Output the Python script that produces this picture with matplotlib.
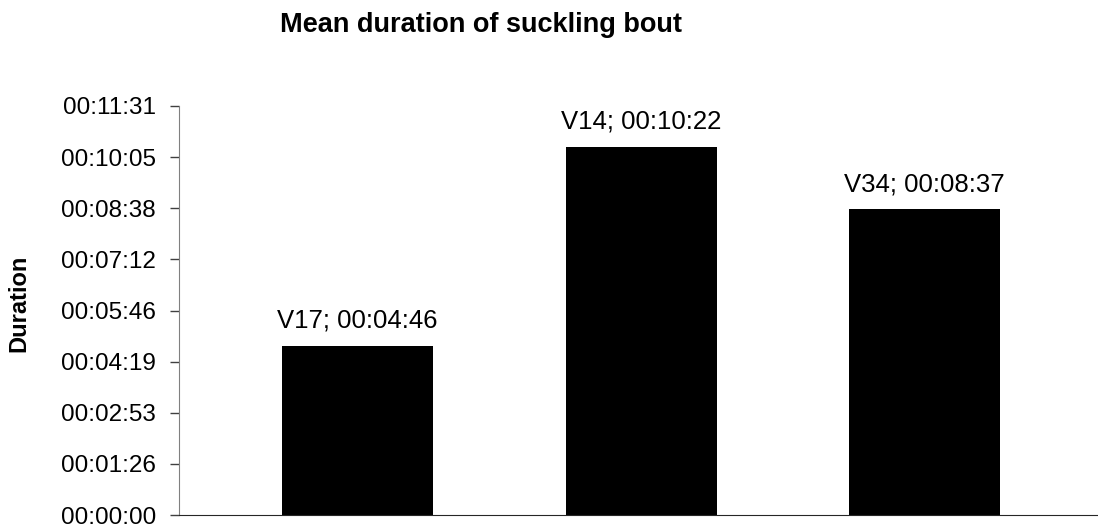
import matplotlib
matplotlib.use("Agg")
import matplotlib.pyplot as plt
import numpy as np

plt.rcParams['font.family'] = ['Liberation Sans', 'DejaVu Sans']

# durations in seconds
names = ['V17', 'V14', 'V34']
durations = [286, 622, 517]
tick_step = 86.4  # Excel 0.001 day
n_ticks = 9


def hms(sec):
    s = int(round(sec))
    return '%02d:%02d:%02d' % (s // 3600, (s % 3600) // 60, s % 60)


fig = plt.figure(figsize=(10.98, 5.24), dpi=100)
ax = fig.add_axes([179 / 1098, 1 - 515 / 524, (1097 - 179) / 1098, (515 - 106) / 524])

x = np.arange(len(names))
ax.bar(x, durations, width=0.533, color='black')

for xi, name, d in zip(x, names, durations):
    ax.annotate('%s; %s' % (name, hms(d)), (xi, d), xytext=(0, 13),
                textcoords='offset points', ha='center', va='baseline', fontsize=18.5)

yt = np.arange(n_ticks) * tick_step
ax.set_yticks(yt)
ax.set_yticklabels([hms(v) for v in yt], fontsize=17.5)
ax.set_ylim(0, yt[-1])
ax.set_xlim(-0.63, 2.608)
ax.set_xticks([])

ax.spines['top'].set_visible(False)
ax.spines['right'].set_visible(False)
ax.spines['left'].set_color('#808080')
ax.spines['bottom'].set_color('#262626')
ax.tick_params(axis='y', direction='out', length=6.5, width=1, color='#404040', pad=10)

fig.text(19 / 1098, 1 - 303 / 524, 'Duration', rotation=90, ha='center', va='center',
         fontsize=17, fontweight='bold')
fig.text(481 / 1098, 1 - 25 / 524, 'Mean duration of suckling bout', ha='center', va='center',
         fontsize=19.5, fontweight='bold')

fig.savefig('out.png', dpi=100)
